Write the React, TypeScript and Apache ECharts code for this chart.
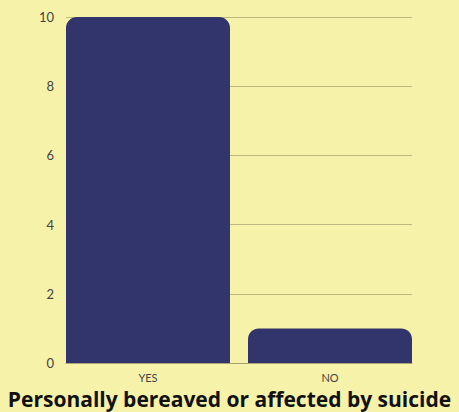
import React, { useEffect, useRef } from "react";
import * as echarts from "echarts";

const categories = ["Yes", "No"];
const counts = [10, 1];
const yTicks = [0, 2, 4, 6, 8, 10];
const chartTitle = "Personally bereaved or affected by suicide";

export default function App() {
  const ref = useRef<HTMLDivElement>(null);

  useEffect(() => {
    if (!ref.current) return;
    const chart = echarts.init(ref.current, null, { renderer: "svg" });
    const yMin = yTicks[0];
    const yMax = yTicks[yTicks.length - 1];
    chart.setOption({
      animation: false,
      backgroundColor: "#f6f2a9",
      // grid 0 carries the value axis and gridlines; grid 1 is a bit wider so
      // the bars reach the plot edges with a single gap between them
      grid: [
        { left: 66, right: 47, top: 17, bottom: 49 },
        { left: 57, right: 38, top: 17, bottom: 49 },
      ],
      title: {
        text: chartTitle,
        left: "center",
        top: 383,
        textStyle: {
          fontFamily: "Open Sans",
          fontWeight: "bold",
          fontSize: 21,
          color: "#111111",
        },
      },
      xAxis: [
        {
          type: "category",
          gridIndex: 0,
          data: categories,
          axisTick: { show: false },
          axisLabel: { show: false },
          axisLine: { show: true, lineStyle: { color: "#a9a574", width: 1 } },
        },
        {
          type: "category",
          gridIndex: 1,
          data: categories,
          axisTick: { show: false },
          axisLine: { show: false },
          axisLabel: {
            color: "#444444",
            fontFamily: "Lato",
            fontSize: 11,
            margin: 9,
            formatter: (v: string) => v.toUpperCase(),
          },
        },
      ],
      yAxis: [
        {
          type: "value",
          gridIndex: 0,
          min: yMin,
          max: yMax,
          interval: 2,
          axisLine: { show: false },
          axisTick: { show: false },
          splitLine: { lineStyle: { color: "#bdb882", width: 1 } },
          axisLabel: {
            color: "#444444",
            fontFamily: "Lato",
            fontSize: 13,
            margin: 12,
          },
        },
        {
          type: "value",
          gridIndex: 1,
          min: yMin,
          max: yMax,
          interval: 2,
          show: false,
          splitLine: { show: false },
        },
      ],
      series: [
        {
          type: "bar",
          xAxisIndex: 1,
          yAxisIndex: 1,
          data: counts,
          barCategoryGap: "9.9%",
          itemStyle: { color: "#31356b", borderRadius: [11, 11, 0, 0] },
        },
      ],
    });
    return () => chart.dispose();
  }, []);

  return (
    <div
      ref={ref}
      style={{ position: "fixed", left: 0, top: 0, width: 459, height: 412 }}
    />
  );
}
